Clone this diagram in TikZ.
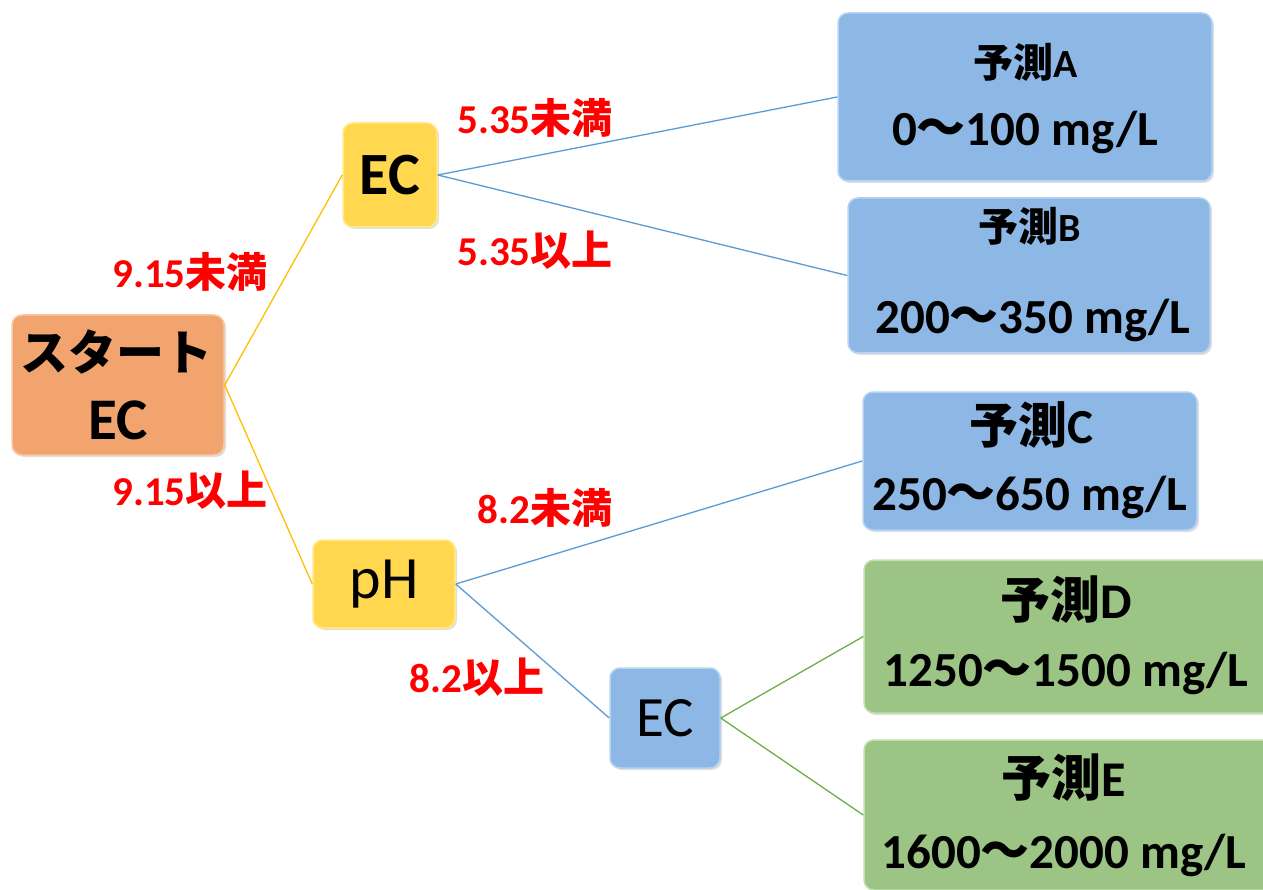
\documentclass[tikz,border=0pt]{standalone}
\usepackage{fontspec}
\setmainfont{Carlito}
\newfontfamily\jp{Noto Sans CJK JP}
\usetikzlibrary{shadows}
\definecolor{orfill}{HTML}{F2A46F}
\definecolor{orline}{HTML}{F8C9A6}
\definecolor{yefill}{HTML}{FFD850}
\definecolor{yeline}{HTML}{FFE98A}
\definecolor{blfill}{HTML}{8DB8E6}
\definecolor{blline}{HTML}{B5D3F2}
\definecolor{grfill}{HTML}{9CC585}
\definecolor{grline}{HTML}{C3E0AE}
\definecolor{yelink}{HTML}{FFC000}
\definecolor{bllink}{HTML}{5B9BD5}
\definecolor{grlink}{HTML}{70AD47}
\definecolor{lab}{HTML}{FF0000}
\newcommand{\fs}[1]{\fontsize{#1}{#1}\selectfont}
\tikzset{
  box/.style={draw=#1line, fill=#1fill, line width=1.5pt, rounded corners=10pt, inner sep=0pt,
    drop shadow={shadow xshift=2pt, shadow yshift=-2pt, opacity=0.25}},
  lbl/.style={text=lab, font=\bfseries\fs{41}, inner sep=0pt},
  txt/.style={inner sep=0pt, text=black},
  link/.style={line width=1.3pt}
}
\begin{document}
\begin{tikzpicture}[x=1pt,y=-1pt]
\useasboundingbox (0,0) rectangle (1263,890);
\fill[white] (0,0) rectangle (1263,890);
% boxes
\node[box=or, minimum width=212, minimum height=140] (start) at (118,385) {};
\node[box=ye, minimum width=94, minimum height=104] (ec1) at (390,175) {};
\node[box=ye, minimum width=142, minimum height=88] (ph) at (384,584) {};
\node[box=bl, minimum width=110, minimum height=100] (ec2) at (665,718) {};
\node[box=bl, minimum width=374, minimum height=168] (pa) at (1025,97) {};
\node[box=bl, minimum width=362, minimum height=155] (pb) at (1029,275.5) {};
\node[box=bl, minimum width=334, minimum height=138] (pc) at (1030,461) {};
\node[box=gr, minimum width=410, minimum height=153] (pd) at (1069,636.5) {};
\node[box=gr, minimum width=410, minimum height=150] (pe) at (1069,815) {};
% texts
\node[txt, font=\bfseries\fs{48}] (t1) at (116,352) {\jp スタート};
\node[txt, font=\bfseries\fs{59}] (t2) at (118,420) {EC};
\node[txt, font=\bfseries\fs{60}] (t3) at (390,175) {EC};
\node[txt, font=\fs{60}] (t4) at (384,584) {pH};
\node[txt, font=\fs{57}] (t5) at (665,718) {EC};
\node[txt, font=\bfseries\fs{40}] (ta1) at (1026,62) {{\jp 予測}A};
\node[txt, font=\bfseries\fs{49}] (ta2) at (1025,132) {0{\jp ～}100 mg/L};
\node[txt, font=\bfseries\fs{40}] (tb1) at (1030,226) {{\jp 予測}B};
\node[txt, font=\bfseries\fs{49}] (tb2) at (1033,320) {200{\jp ～}350 mg/L};
\node[txt, font=\bfseries\fs{49}] (tc1) at (1031,425) {{\jp 予測}C};
\node[txt, font=\bfseries\fs{49}] (tc2) at (1030,497) {250{\jp ～}650 mg/L};
\node[txt, font=\bfseries\fs{50}] (td1) at (1066,600) {{\jp 予測}D};
\node[txt, font=\bfseries\fs{49}] (td2) at (1066,673) {1250{\jp ～}1500 mg/L};
\node[txt, font=\bfseries\fs{50}] (te1) at (1064,778) {{\jp 予測}E};
\node[txt, font=\bfseries\fs{49}] (te2) at (1064,855) {1600{\jp ～}2000 mg/L};
% labels
\node[lbl] (l1) at (190,272) {9.15{\jp 未満}};
\node[lbl] (l2) at (190,490) {9.15{\jp 以上}};
\node[lbl] (l3) at (535,118) {5.35{\jp 未満}};
\node[lbl] (l4) at (535,250) {5.35{\jp 以上}};
\node[lbl] (l5) at (545,508) {8.2{\jp 未満}};
\node[lbl] (l6) at (477,677) {8.2{\jp 以上}};
% links
\draw[link, yelink] (start.east) -- (ec1.west);
\draw[link, yelink] (start.east) -- (ph.west);
\draw[link, bllink] (ec1.east) -- (pa.west);
\draw[link, bllink] (ec1.east) -- (pb.west);
\draw[link, bllink] (ph.east) -- (pc.west);
\draw[link, bllink] (ph.east) -- (ec2.west);
\draw[link, grlink] (ec2.east) -- (pd.west);
\draw[link, grlink] (ec2.east) -- (pe.west);
\end{tikzpicture}
\end{document}
